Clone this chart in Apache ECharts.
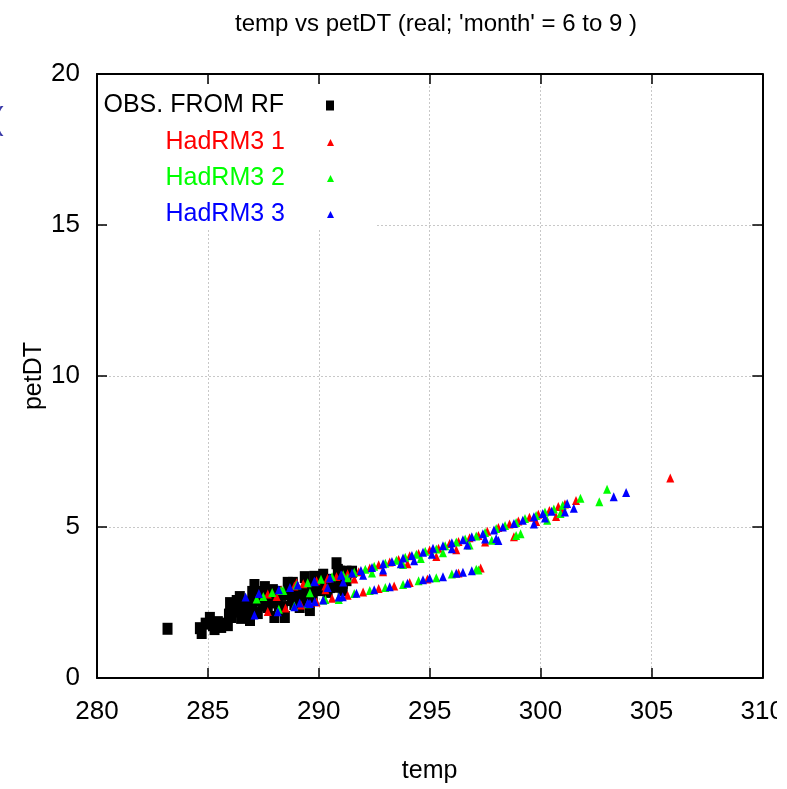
<!DOCTYPE html>
<html>
<head>
<meta charset="utf-8">
<script src="https://cdn.jsdelivr.net/npm/echarts@6/dist/echarts.min.js"></script>
<style>html,body{margin:0;padding:0;background:#fff}#c{width:787px;height:789px}</style>
</head>
<body>
<div id="c"></div>
<script>
const titleText = "temp vs petDT (real; 'month' = 6 to 9 )";
const xName = "temp";
const yName = "petDT";
const xMin = 280, xMax = 310, xStep = 5;
const yMin = 0, yMax = 20, yStep = 5;
const seriesNames = ["OBS. FROM RF", "HadRM3 1", "HadRM3 2", "HadRM3 3"];
const seriesColors = ["#000000", "#ff0000", "#00ff00", "#0000ff"];

const obs = [
  [283.18,1.63],[284.64,1.65],[284.72,1.49],[284.9,1.8],[285.09,1.99],[285.23,1.75],[285.45,1.85],[285.6,1.69],
  [285.75,1.8],[285.9,1.75],[286.0,2.48],[286.07,2.02],[286.2,2.2],[286.44,2.68],[286.5,1.99],[286.67,2.32],
  [286.8,2.1],[286.9,2.48],[286.9,1.92],[287.1,3.08],[287.1,2.68],[287.25,2.15],[287.34,2.58],[287.45,2.4],
  [287.57,3.01],[287.64,2.68],[287.7,2.35],[287.8,2.5],[287.93,2.91],[288.0,2.02],[288.15,2.58],[288.3,2.75],
  [288.38,2.35],[288.47,2.02],[288.6,3.15],[288.7,2.98],[288.77,2.58],[288.83,3.15],[288.9,2.45],[289.05,2.68],
  [289.14,2.35],[289.25,2.85],[289.37,3.34],[289.44,2.91],[289.6,2.25],[289.6,3.05],[289.73,2.68],[289.8,3.35],
  [289.9,3.34],[290.05,2.91],[290.18,3.15],[290.3,3.19],[290.4,2.85],[290.5,3.01],[290.77,3.02],[290.8,3.8],
  [290.86,3.58],[290.95,3.52],[291.02,3.34],[291.08,3.15],[291.08,2.91],[291.25,3.24],[291.25,3.52],[291.5,3.52],
  [286.3,2.55],[287.0,2.85],[288.1,2.85],[289.0,2.85],[285.3,1.62],[285.95,2.1],[286.35,2.3],[286.6,2.5],
  [287.0,2.3],[287.35,2.85],[287.9,2.65],[288.2,2.25],[288.55,2.78],[288.95,2.6],[289.3,2.55],[289.95,3.05],
  [290.6,3.25],[290.2,3.42]
];
const had1 = [
  [287.7,2.78],[288.3,2.92],[288.9,3.05],[289.3,3.12],[289.9,3.22],[290.4,3.3],[290.8,3.36],[291.3,3.45],
  [291.8,3.52],[292.3,3.64],[292.7,3.75],[293.2,3.84],[293.6,3.92],[294.1,4.05],[294.5,4.12],[295.0,4.24],
  [295.4,4.3],[295.9,4.45],[296.3,4.52],[296.8,4.64],[297.2,4.72],[297.6,4.86],[298.1,4.98],[298.6,5.1],
  [299.0,5.2],[299.5,5.32],[299.9,5.42],[300.4,5.55],[300.8,5.68],[301.1,5.76],[301.6,5.88],
  [290.3,2.92],[291.6,3.28],[292.9,3.52],[294.0,3.78],[295.3,4.02],[296.2,4.25],[297.5,4.5],[298.8,4.68],
  [299.8,5.18],[300.7,5.35],[301.0,5.58],[305.85,6.62],
  [287.7,2.2],[288.5,2.32],[289.2,2.42],[289.9,2.52],[290.6,2.64],[291.3,2.74],[292.0,2.85],[292.7,2.96],
  [293.4,3.05],[294.1,3.16],[294.9,3.28],[296.3,3.48],[297.3,3.64],
  [288.1,2.7],[289.0,3.15],[290.3,3.05]
];
const had2 = [
  [287.2,2.62],[287.9,2.83],[288.4,2.9],[289.0,3.08],[289.5,3.15],[290.1,3.27],[290.6,3.35],[291.1,3.42],
  [291.6,3.5],[292.1,3.6],[292.5,3.7],[293.0,3.8],[293.5,3.9],[293.9,4.0],[294.4,4.1],[294.8,4.2],
  [295.3,4.27],[295.7,4.38],[296.2,4.5],[296.6,4.6],[297.1,4.7],[297.5,4.82],[298.0,4.95],[298.4,5.05],
  [298.9,5.15],[299.3,5.28],[299.8,5.38],[300.2,5.5],[300.6,5.6],[301.0,5.72],[301.8,5.95],
  [291.3,3.32],[292.4,3.48],[293.8,3.76],[294.6,3.96],[295.6,4.15],[296.8,4.4],[297.8,4.56],[298.9,4.72],
  [299.1,4.78],[300.3,5.22],[300.9,5.45],[302.65,5.84],[303.0,6.25],
  [288.2,2.28],[288.9,2.38],[289.5,2.46],[290.3,2.6],[290.9,2.68],[291.6,2.8],[292.3,2.9],[293.0,3.0],
  [293.8,3.1],[294.5,3.22],[295.3,3.32],[296.0,3.44],[297.1,3.6],[297.2,3.58],
  [288.3,2.9],[289.6,2.82],[290.2,2.58],[290.9,2.6],[287.5,2.7]
];
const had3 = [
  [286.7,2.68],[287.3,2.8],[288.2,2.92],[288.7,3.0],[289.05,3.08],[289.8,3.2],[290.5,3.31],[291.0,3.41],
  [291.5,3.48],[291.9,3.56],[292.4,3.66],[292.9,3.78],[293.3,3.86],[293.8,3.97],[294.2,4.06],[294.7,4.16],
  [295.15,4.3],[295.6,4.38],[296.0,4.48],[296.5,4.58],[296.9,4.68],[297.4,4.78],[297.9,4.9],[298.3,5.0],
  [298.8,5.12],[299.2,5.22],[299.7,5.34],[300.1,5.45],[300.5,5.52],[301.2,5.78],
  [290.4,3.0],[291.1,3.18],[292.0,3.4],[292.9,3.58],[293.7,3.78],[294.3,3.88],[295.1,4.1],[296.0,4.28],
  [296.7,4.4],[297.5,4.6],[298.1,4.55],[298.0,4.62],[299.7,5.1],[300.2,5.3],[301.1,5.5],[301.5,5.62],
  [303.3,6.0],[303.86,6.14],
  [287.1,2.09],[288.15,2.19],[288.9,2.36],[289.6,2.47],[290.2,2.58],[290.9,2.68],[291.7,2.81],[292.5,2.92],
  [293.2,3.02],[294.0,3.14],[294.7,3.25],[295.0,3.31],[295.6,3.35],[296.2,3.47],[296.5,3.5],[296.9,3.55],
  [289.14,2.48],[289.5,2.48],[289.82,2.53],[291.08,2.69],[289.82,3.19],[291.02,3.41]
];
const seriesData = [obs, had1, had2, had3];

const FONT = "'Liberation Sans', Arial, sans-serif";
const chart = echarts.init(document.getElementById('c'), null, {renderer: 'canvas'});

const gridL = 97, gridT = 74, gridR = 21, gridB = 111;
const axisLine = {show: true, onZero: false, lineStyle: {color: '#000', width: 2}};
const tick = {show: true, inside: true, length: 10, lineStyle: {color: '#000', width: 1.5}};
const split = {show: true, lineStyle: {color: '#c8c8c8', width: 1, type: [2, 2]}};

const legendTops = [93, 130, 166, 202];
const legends = seriesNames.map((n, i) => ({
  data: [n],
  orient: 'vertical',
  align: 'right',
  right: 453,
  top: legendTops[i],
  padding: 0,
  itemWidth: i === 0 ? 8 : 7,
  itemHeight: i === 0 ? 10 : 7,
  selectedMode: false,
  z: 10,
  textStyle: {color: seriesColors[i], fontSize: 25, fontFamily: FONT, padding: [0, 37, 0, 0]}
}));

const option = {
  animation: false,
  backgroundColor: '#fff',
  title: {
    text: titleText, left: 431, top: 7, textAlign: 'center',
    textStyle: {fontSize: 24, fontWeight: 'normal', color: '#000', fontFamily: FONT}
  },
  legend: legends,
  grid: {left: gridL, top: gridT, right: gridR, bottom: gridB, containLabel: false},
  xAxis: [
    {type: 'value', min: xMin, max: xMax, interval: xStep, position: 'bottom',
     name: xName, nameLocation: 'middle', nameGap: 81, nameMoveOverlap: false,
     nameTextStyle: {fontSize: 25, color: '#000', fontFamily: FONT},
     axisLine: axisLine, axisTick: tick, splitLine: split,
     axisLabel: {fontSize: 26, color: '#000', fontFamily: FONT, margin: 21}},
    {type: 'value', min: xMin, max: xMax, interval: xStep, position: 'top',
     axisLine: axisLine, axisTick: tick, splitLine: {show: false}, axisLabel: {show: false}}
  ],
  yAxis: [
    {type: 'value', min: yMin, max: yMax, interval: yStep, position: 'left',
     name: yName, nameLocation: 'middle', nameGap: 50, nameMoveOverlap: false,
     nameTextStyle: {fontSize: 25, color: '#000', fontFamily: FONT},
     axisLine: axisLine, axisTick: tick, splitLine: split,
     axisLabel: {fontSize: 26, color: '#000', fontFamily: FONT, margin: 17}},
    {type: 'value', min: yMin, max: yMax, interval: yStep, position: 'right',
     axisLine: axisLine, axisTick: tick, splitLine: {show: false}, axisLabel: {show: false}}
  ],
  graphic: [
    {type: 'rect', z: 1, shape: {x: 108, y: 85, width: 268, height: 143}, style: {fill: '#fff'}, silent: true},
    {type: 'text', z: 1, left: -7, top: 104, style: {text: '(', fontSize: 32, fill: '#3a3aa8', fontFamily: FONT}},
    {type: 'rect', z: 100, shape: {x: 777, y: 0, width: 10, height: 789}, style: {fill: '#fff'}, silent: true}
  ],
  series: seriesNames.map((n, i) => ({
    name: n, type: 'scatter', data: seriesData[i],
    symbol: i === 0 ? 'rect' : 'triangle',
    symbolSize: i === 0 ? [10, 12] : [8, 9],
    itemStyle: {color: seriesColors[i], opacity: 1},
    z: 2 + i
  }))
};
chart.setOption(option);
</script>
</body>
</html>
